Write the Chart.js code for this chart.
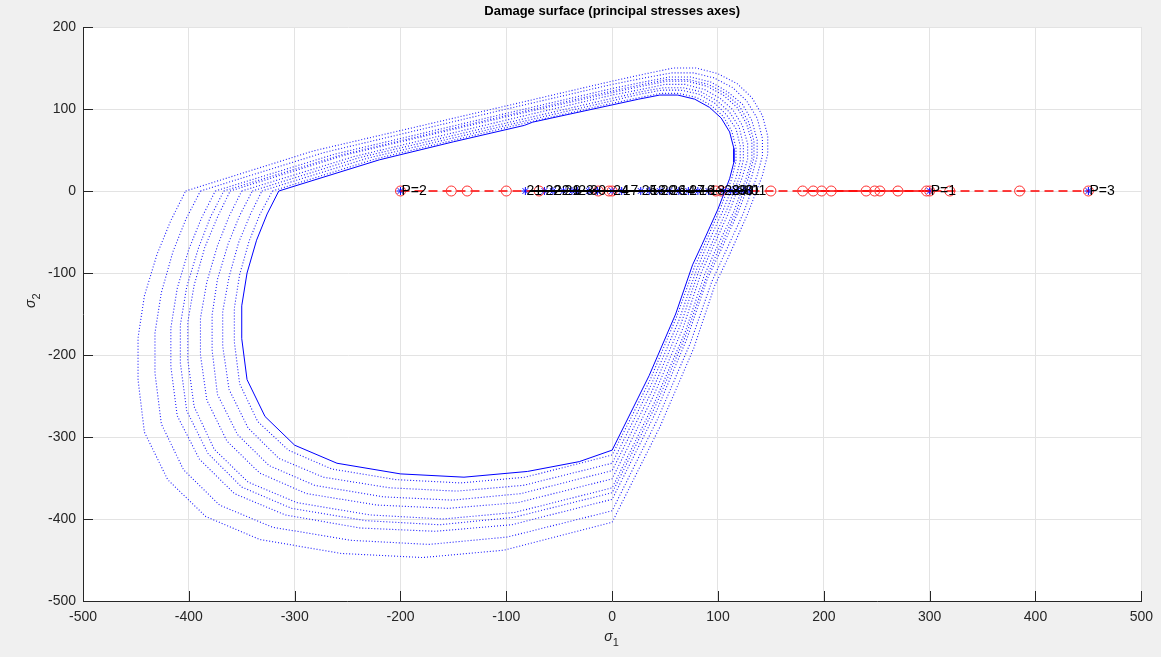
<!DOCTYPE html>
<html>
<head>
<meta charset="utf-8">
<script src="https://cdn.jsdelivr.net/npm/chart.js@4.4.1/dist/chart.umd.min.js"></script>
<style>
html,body{margin:0;padding:0;background:#f0f0f0;}
#wrap{width:1161px;height:657px;position:relative;}
</style>
</head>
<body>
<div id="wrap"><canvas id="c" width="1161" height="657"></canvas></div>
<script>
// ---------- DATA ----------
const chartTitle = 'Damage surface (principal stresses axes)';
const xTickValues = [-500,-400,-300,-200,-100,0,100,200,300,400,500];
const yTickValues = [-500,-400,-300,-200,-100,0,100,200];

// initial damage surface (solid)
const damageSurface = [[-315,0],[-220,38],[-150,60],[-83,80],[-75,84],[0,105],[25,112],[45,117],[62,117],[78,112],[92,102],[103,89],[111,72],[115,52],[115,35],[111,15],[100,-22],[85,-65],[76,-90],[60,-150],[35,-225],[0,-316],[-31,-330],[-80,-342],[-140,-349],[-200,-345],[-260,-332],[-300,-310],[-328,-275],[-345,-230],[-350,-180],[-350,-140],[-345,-100],[-336,-60],[-326,-28],[-315,0]];

// evolved damage surfaces (dotted)
const surface1 = [[-321,0],[-224,39],[-85,82],[0,107],[26,114],[46,119],[63,119],[80,114],[94,104],[105,91],[113,73],[117,53],[117,36],[113,15],[102,-22],[87,-66],[78,-92],[61,-153],[36,-230],[0,-322],[-82,-349],[-143,-356],[-204,-352],[-265,-339],[-306,-316],[-335,-281],[-352,-235],[-357,-184],[-357,-143],[-352,-102],[-343,-61],[-333,-29],[-321,0]];
const surface2 = [[-331,0],[-231,40],[-87,84],[0,110],[26,118],[47,123],[65,123],[82,118],[97,107],[108,93],[117,76],[121,55],[121,37],[117,16],[105,-23],[89,-68],[80,-95],[63,-158],[37,-236],[0,-332],[-84,-359],[-147,-366],[-210,-362],[-273,-349],[-315,-326],[-344,-289],[-362,-242],[-368,-189],[-368,-147],[-362,-105],[-353,-63],[-342,-29],[-331,0]];
const surface3 = [[-340,0],[-238,41],[-90,86],[0,113],[27,121],[49,126],[67,126],[84,121],[99,110],[111,96],[120,78],[124,56],[124,38],[120,16],[108,-24],[92,-70],[82,-97],[65,-162],[38,-243],[0,-341],[-86,-369],[-151,-377],[-216,-373],[-281,-359],[-324,-335],[-354,-297],[-373,-248],[-378,-194],[-378,-151],[-373,-108],[-363,-65],[-352,-30],[-340,0]];
const surface4 = [[-350,0],[-244,42],[-92,89],[0,117],[28,124],[50,130],[69,130],[87,124],[102,113],[114,99],[123,80],[128,58],[128,39],[123,17],[111,-24],[94,-72],[84,-100],[67,-167],[39,-250],[0,-351],[-89,-380],[-155,-387],[-222,-383],[-289,-369],[-333,-344],[-364,-305],[-383,-255],[-389,-200],[-389,-155],[-383,-111],[-373,-67],[-362,-31],[-350,0]];
const surface5 = [[-361,0],[-252,44],[-95,92],[0,120],[29,128],[52,134],[71,134],[89,128],[105,117],[118,102],[127,82],[132,60],[132,40],[127,17],[115,-25],[97,-74],[87,-103],[69,-172],[40,-258],[0,-362],[-92,-392],[-160,-400],[-229,-395],[-298,-380],[-344,-355],[-376,-315],[-395,-263],[-401,-206],[-401,-160],[-395,-115],[-385,-69],[-373,-32],[-361,0]];
const surface6 = [[-367,0],[-256,44],[-97,93],[0,122],[29,130],[52,136],[72,136],[91,130],[107,119],[120,104],[129,84],[134,61],[134,41],[129,17],[117,-26],[99,-76],[89,-105],[70,-175],[41,-262],[0,-368],[-93,-398],[-163,-407],[-233,-402],[-303,-387],[-350,-361],[-382,-320],[-402,-268],[-408,-210],[-408,-163],[-402,-117],[-391,-70],[-380,-33],[-367,0]];
const surface7 = [[-375,0],[-262,45],[-99,95],[0,125],[30,133],[54,139],[74,139],[93,133],[109,121],[123,106],[132,86],[137,62],[137,42],[132,18],[119,-26],[101,-77],[90,-107],[71,-179],[42,-268],[0,-376],[-95,-407],[-167,-415],[-238,-411],[-309,-395],[-357,-369],[-390,-327],[-411,-274],[-417,-214],[-417,-167],[-411,-119],[-400,-71],[-388,-33],[-375,0]];
const surface8 = [[-389,0],[-272,47],[-103,99],[0,130],[31,138],[56,144],[77,144],[96,138],[114,126],[127,110],[137,89],[142,64],[142,43],[137,19],[124,-27],[105,-80],[94,-111],[74,-185],[43,-278],[0,-390],[-99,-422],[-173,-431],[-247,-426],[-321,-410],[-371,-383],[-405,-340],[-426,-284],[-432,-222],[-432,-173],[-426,-124],[-415,-74],[-403,-35],[-389,0]];
const surface9 = [[-403,0],[-282,49],[-106,102],[0,134],[32,143],[58,150],[79,150],[100,143],[118,131],[132,114],[142,92],[147,67],[147,45],[142,19],[128,-28],[109,-83],[97,-115],[77,-192],[45,-288],[0,-404],[-102,-438],[-179,-447],[-256,-442],[-333,-425],[-384,-397],[-420,-352],[-442,-294],[-448,-230],[-448,-179],[-442,-128],[-430,-77],[-417,-36],[-403,0]];

// load path (sigma2 = 0)
const pathX = [-200,-152,-137,-100,-69,-13,-3,0,98,103,150,180,190,198,207,240,248,253,270,297,300,319,385,450];
const pathSolidX = [180,300];
const elasticX = [-78,128];
// labelled load points
const pointX = [-200,300,450,-82,-64,-56,-46,-38,-33,-22,-14,0,9,27,35,45,54,63,72,81,91,105,112,118,124,130];
const pointLabel = ['P=2','P=1','P=3','21','22','22','21','9','23','3','0','24','17','25','13','20','26','14','27','16','18','28','29','30','31','01'];

// ---------- CHART ----------
const toXY = a => a.map(p => ({x:p[0], y:p[1]}));
const dottedSurfaces = [surface1,surface2,surface3,surface4,surface5,surface6,surface7,surface8,surface9];

const datasets = [];
dottedSurfaces.forEach(s => datasets.push({
  data: toXY(s), showLine:true, borderColor:'#1a1aff', borderWidth:1.1,
  borderDash:[1,2], pointRadius:0, fill:false
}));
datasets.push({data: toXY(damageSurface), showLine:true, borderColor:'#0000ff', borderWidth:1, pointRadius:0});
datasets.push({data: elasticX.map(x=>({x, y:0})), showLine:true, borderColor:'#000', borderWidth:2, pointRadius:0});
datasets.push({data: pathX.map(x=>({x, y:0})), showLine:true, borderColor:'#ff0000', borderWidth:1.4,
  borderDash:[9,5], pointStyle:'circle', pointRadius:5, pointBorderColor:'#ff3030', pointBackgroundColor:'rgba(0,0,0,0)', pointBorderWidth:1});
datasets.push({data: pathSolidX.map(x=>({x, y:0})), showLine:true, borderColor:'#ff0000', borderWidth:1.4, pointRadius:0});
datasets.push({data: pointX.map(x=>({x, y:0})), showLine:false, pointStyle:'star', pointRadius:4, pointBorderColor:'#0000ff', pointBorderWidth:1});

const FONT = '"Liberation Sans", Arial, Helvetica, sans-serif';
const decor = {
  id:'decor',
  beforeDraw(chart){
    const {ctx, chartArea:a} = chart;
    ctx.save();
    ctx.fillStyle = '#ffffff';
    ctx.fillRect(a.left, a.top, a.right-a.left, a.bottom-a.top);
    ctx.restore();
  },
  afterDatasetsDraw(chart){
    const {ctx, scales} = chart;
    ctx.save();
    ctx.font = '14px ' + FONT;
    ctx.fillStyle = '#000';
    ctx.textBaseline = 'middle';
    ctx.textAlign = 'left';
    pointX.forEach((x,i) => {
      ctx.fillText(pointLabel[i], scales.x.getPixelForValue(x)+1, scales.y.getPixelForValue(0)+0.5);
    });
    ctx.restore();
  },
  afterDraw(chart){
    const {ctx, chartArea:a, scales} = chart;
    ctx.save();
    ctx.strokeStyle = '#262626';
    ctx.lineWidth = 1;
    ctx.beginPath();
    xTickValues.forEach(v => { const px = Math.round(scales.x.getPixelForValue(v))+0.5; ctx.moveTo(px, a.bottom); ctx.lineTo(px, a.bottom-10); });
    yTickValues.forEach(v => { const py = Math.round(scales.y.getPixelForValue(v))+0.5; ctx.moveTo(a.left, py); ctx.lineTo(a.left+10, py); });
    ctx.stroke();
    // title
    ctx.fillStyle = '#000';
    ctx.font = 'bold 13px ' + FONT;
    ctx.textAlign = 'center';
    ctx.textBaseline = 'middle';
    ctx.fillText(chartTitle, (a.left+a.right)/2, 11);
    // x axis label
    ctx.fillStyle = '#262626';
    ctx.font = 'italic 14px ' + FONT;
    ctx.textAlign = 'left';
    const cx = (a.left+a.right)/2;
    ctx.fillText('\u03C3', cx-8, 637);
    ctx.font = '11px ' + FONT;
    ctx.fillText('1', cx+0.5, 643);
    // y axis label
    ctx.translate(31, 300);
    ctx.rotate(-Math.PI/2);
    ctx.font = 'italic 14px ' + FONT;
    ctx.fillText('\u03C3', -8, 0);
    ctx.font = '11px ' + FONT;
    ctx.fillText('2', 0.5, 6);
    ctx.restore();
  }
};

new Chart(document.getElementById('c'), {
  type:'scatter',
  data:{datasets},
  options:{
    responsive:false, animation:false,
    layout:{padding:{top:27,right:17,left:0,bottom:0}},
    plugins:{legend:{display:false}, tooltip:{enabled:false}, title:{display:false}},
    scales:{
      x:{type:'linear', min:-500, max:500,
        afterBuildTicks: s => { s.ticks = xTickValues.map(v=>({value:v})); },
        afterFit: s => { s.height = 56; },
        grid:{color:'#e3e3e3', drawTicks:false},
        border:{color:'#262626', width:1},
        ticks:{color:'#262626', font:{family:FONT, size:14}, padding:8, autoSkip:false, maxRotation:0}
      },
      y:{type:'linear', min:-500, max:200,
        afterBuildTicks: s => { s.ticks = yTickValues.map(v=>({value:v})); },
        afterFit: s => { s.width = 83; },
        grid:{color:'#e3e3e3', drawTicks:false},
        border:{color:'#262626', width:1},
        ticks:{color:'#262626', font:{family:FONT, size:14}, padding:7, autoSkip:false}
      }
    }
  },
  plugins:[decor]
});
</script>
</body>
</html>
